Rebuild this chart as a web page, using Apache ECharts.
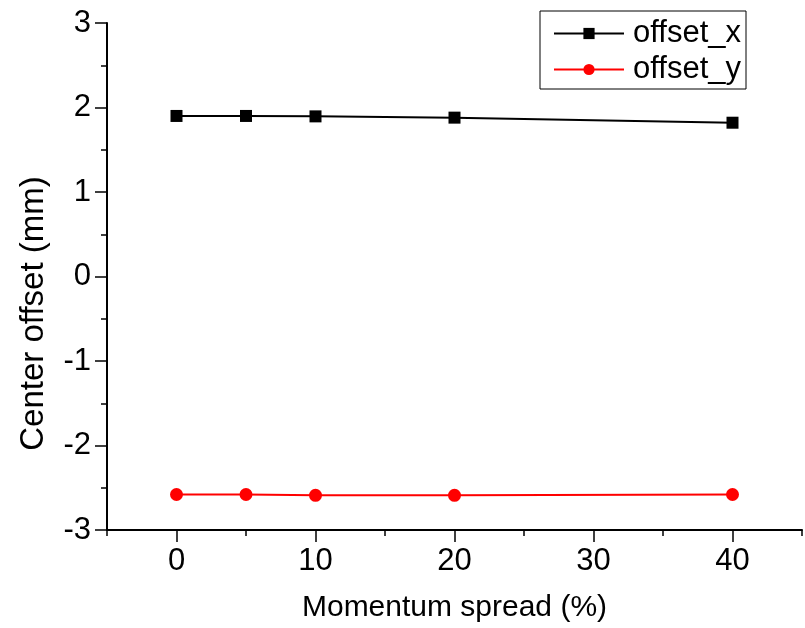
<!DOCTYPE html>
<html>
<head>
<meta charset="utf-8">
<script src="https://cdn.jsdelivr.net/npm/echarts@6/dist/echarts.min.js"></script>
<style>html,body{margin:0;padding:0;background:#fff}#c{width:805px;height:628px}</style>
</head>
<body>
<div id="c"></div>
<script>
var momentumSpread = [0, 5, 10, 20, 40];
var offsetX = [1.90, 1.90, 1.895, 1.88, 1.82];
var offsetY = [-2.58, -2.58, -2.59, -2.59, -2.58];
var xMajorTicks = [0, 10, 20, 30, 40];

var FONT = '"Liberation Sans", Arial, sans-serif';
function pairs(xs, ys) { return xs.map(function (x, i) { return [x, ys[i]]; }); }

var chart = echarts.init(document.getElementById('c'), null, { renderer: 'canvas' });
chart.setOption({
  animation: false,
  backgroundColor: '#fff',
  textStyle: { fontFamily: FONT, color: '#000' },
  grid: { left: 107, top: 23, right: 1, bottom: 96, containLabel: false },
  legend: {
    left: 540, top: 11,
    orient: 'vertical',
    padding: [7, 5, 4, 13],
    itemGap: 5,
    itemWidth: 70, itemHeight: 14,
    borderColor: '#000', borderWidth: 1,
    textStyle: { fontFamily: FONT, fontSize: 31, color: '#000', padding: [0, 0, 0, 4] },
    data: ['offset_x', 'offset_y']
  },
  xAxis: [{
    type: 'value', min: -5, max: 45, interval: 5,
    name: 'Momentum spread (%)', nameLocation: 'middle', nameGap: 63,
    nameTextStyle: { fontFamily: FONT, fontSize: 30, color: '#000' },
    axisLine: { show: true, onZero: false, lineStyle: { color: '#000', width: 2 } },
    axisTick: { show: true, inside: false, length: 6, lineStyle: { color: '#000', width: 1.5 } },
    axisLabel: { fontFamily: FONT, fontSize: 31, color: '#000', margin: 16,
      formatter: function (v) { return (v % 10 === 0 && v >= 0 && v <= 40) ? String(v) : ''; } },
    splitLine: { show: false }
  }, {
    type: 'value', min: -5, max: 45, position: 'bottom',
    axisLine: { show: false, onZero: false },
    axisTick: { show: true, inside: false, length: 12, customValues: xMajorTicks, lineStyle: { color: '#000', width: 1.5 } },
    axisLabel: { show: false },
    splitLine: { show: false }
  }],
  yAxis: {
    type: 'value', min: -3, max: 3, interval: 1,
    name: 'Center offset (mm)', nameLocation: 'middle', nameGap: 57,
    nameTextStyle: { fontFamily: FONT, fontSize: 33, color: '#000', padding: [0, 74, 0, 0] },
    axisLine: { show: true, onZero: false, lineStyle: { color: '#000', width: 2 } },
    axisTick: { show: true, inside: false, length: 12, lineStyle: { color: '#000', width: 1.5 } },
    minorTick: { show: true, splitNumber: 2, length: 6, lineStyle: { color: '#000', width: 1.5 } },
    axisLabel: { fontFamily: FONT, fontSize: 31, color: '#000', margin: 16 },
    splitLine: { show: false }
  },
  series: [{
    name: 'offset_x', type: 'line', xAxisIndex: 0,
    data: pairs(momentumSpread, offsetX),
    symbol: 'rect', symbolSize: 12,
    itemStyle: { color: '#000' },
    lineStyle: { color: '#000', width: 2 }
  }, {
    name: 'offset_y', type: 'line', xAxisIndex: 0,
    data: pairs(momentumSpread, offsetY),
    symbol: 'circle', symbolSize: 13,
    itemStyle: { color: '#ff0000' },
    lineStyle: { color: '#ff0000', width: 2 }
  }]
});
</script>
</body>
</html>
